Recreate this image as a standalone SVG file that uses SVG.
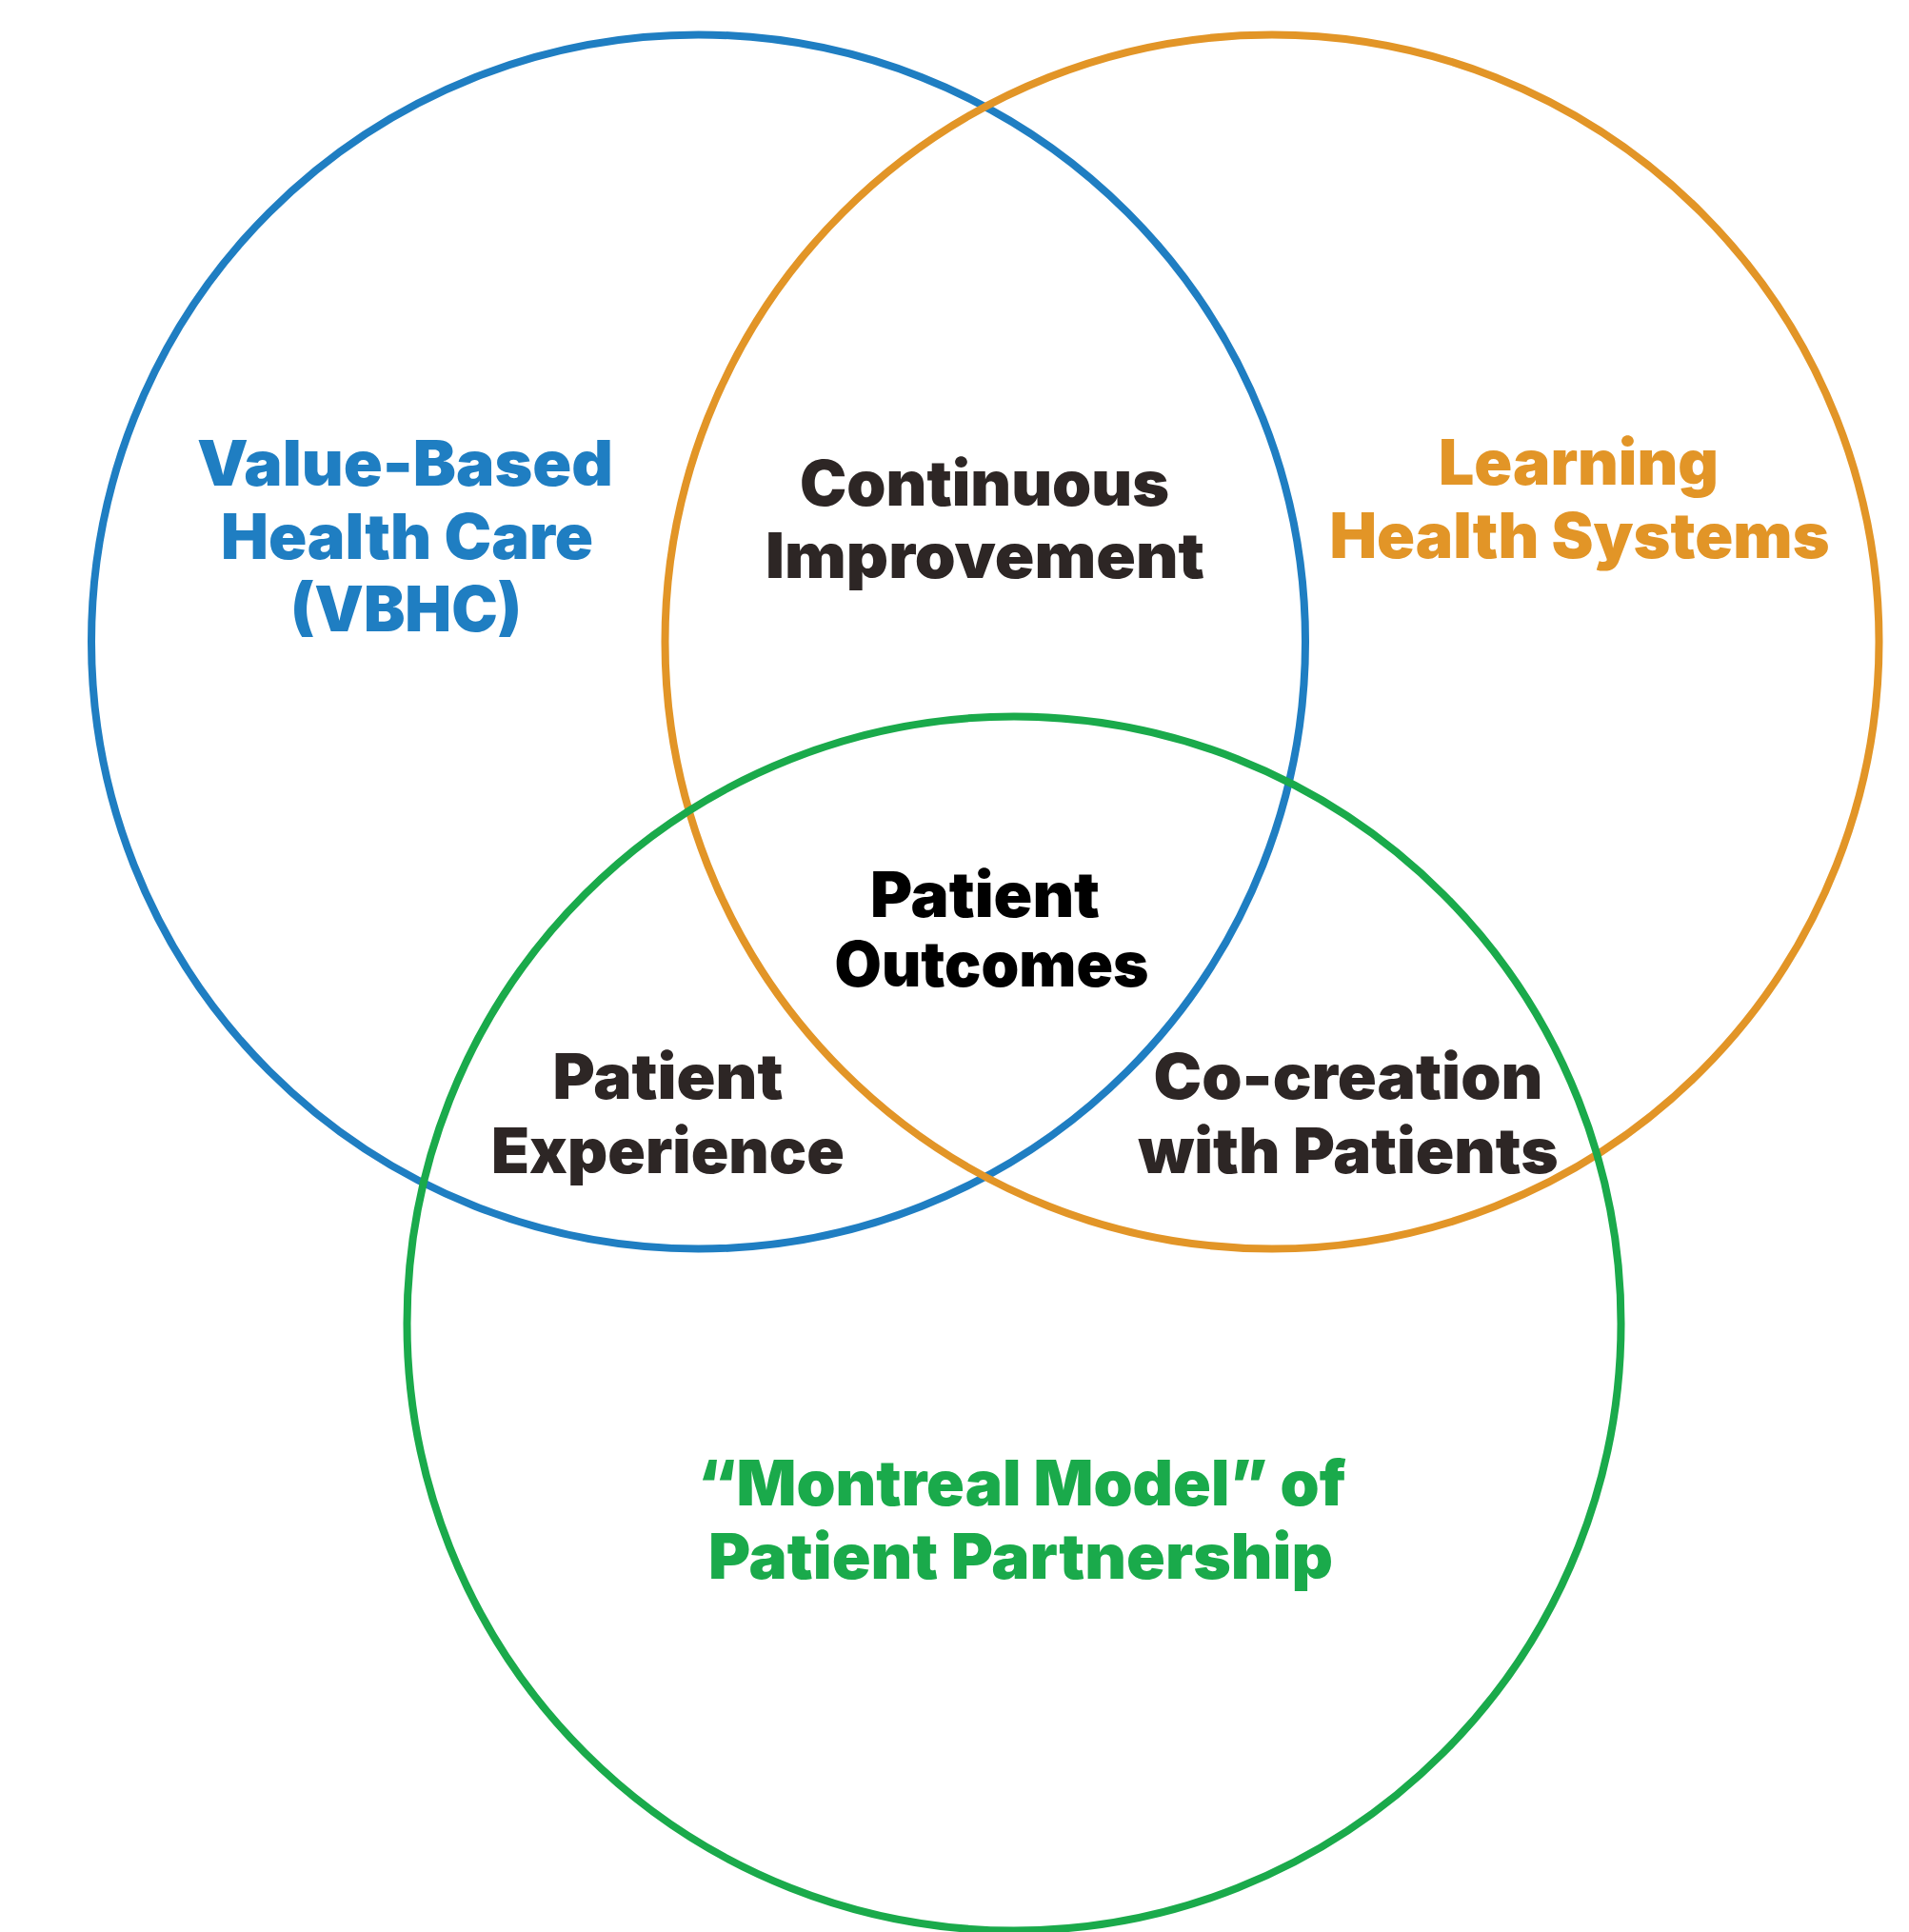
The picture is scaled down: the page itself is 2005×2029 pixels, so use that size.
<svg xmlns="http://www.w3.org/2000/svg" width="2005" height="2029" viewBox="0 0 2005 2029">
  <style>
    .ring { fill: none; stroke-width: 8; }
    .lbl { font-family: "Inter", "Liberation Sans", sans-serif; font-weight: 900; font-size: 66px; text-anchor: middle; }
    .blue { fill: #1f7ec2; }
    .orange { fill: #e29527; }
    .green { fill: #1aaa4b; }
    .dark { fill: #2d2625; }
    .black { fill: #000000; }
  </style>
  <rect width="2005" height="2029" fill="#ffffff"/>

  <!-- the three overlapping circles -->
  <g id="circles">
    <circle id="circle-vbhc" class="ring" cx="733.5" cy="674" r="637.5" stroke="#1f7ec2"/>
    <circle id="circle-lhs" class="ring" cx="1336" cy="674" r="637.5" stroke="#e29527"/>
    <circle id="circle-montreal" class="ring" cx="1065" cy="1390" r="637.5" stroke="#1aaa4b"/>
  </g>

  <g id="connectors"/>

  <g id="node-vbhc" class="lbl blue">
    <text x="425.5" y="510" textLength="437" lengthAdjust="spacingAndGlyphs">Value-Based</text>
    <text x="427.5" y="587" textLength="391" lengthAdjust="spacingAndGlyphs">Health Care</text>
    <text x="426.5" y="663" textLength="243" lengthAdjust="spacingAndGlyphs">(VBHC)</text>
  </g>

  <g id="node-lhs" class="lbl orange">
    <text x="1658" y="509" textLength="294" lengthAdjust="spacingAndGlyphs">Learning</text>
    <text x="1659" y="586" textLength="525" lengthAdjust="spacingAndGlyphs">Health Systems</text>
  </g>

  <g id="node-continuous" class="lbl dark">
    <text x="1034" y="531" textLength="388" lengthAdjust="spacingAndGlyphs">Continuous</text>
    <text x="1034.5" y="607" textLength="461" lengthAdjust="spacingAndGlyphs">Improvement</text>
  </g>

  <g id="node-outcomes" class="lbl black">
    <text x="1034.5" y="963" textLength="241" lengthAdjust="spacingAndGlyphs">Patient</text>
    <text x="1041.5" y="1036" textLength="330" lengthAdjust="spacingAndGlyphs">Outcomes</text>
  </g>

  <g id="node-experience" class="lbl dark">
    <text x="701.5" y="1154" textLength="242" lengthAdjust="spacingAndGlyphs">Patient</text>
    <text x="701.5" y="1232" textLength="371" lengthAdjust="spacingAndGlyphs">Experience</text>
  </g>

  <g id="node-cocreation" class="lbl dark">
    <text x="1416" y="1154" textLength="409" lengthAdjust="spacingAndGlyphs">Co-creation</text>
    <text x="1416" y="1232" textLength="441" lengthAdjust="spacingAndGlyphs">with Patients</text>
  </g>

  <g id="node-montreal" class="lbl green">
    <text x="1073" y="1581" textLength="681" lengthAdjust="spacingAndGlyphs">“Montreal Model” of</text>
    <text x="1072" y="1658" textLength="656" lengthAdjust="spacingAndGlyphs">Patient Partnership</text>
  </g>
</svg>
